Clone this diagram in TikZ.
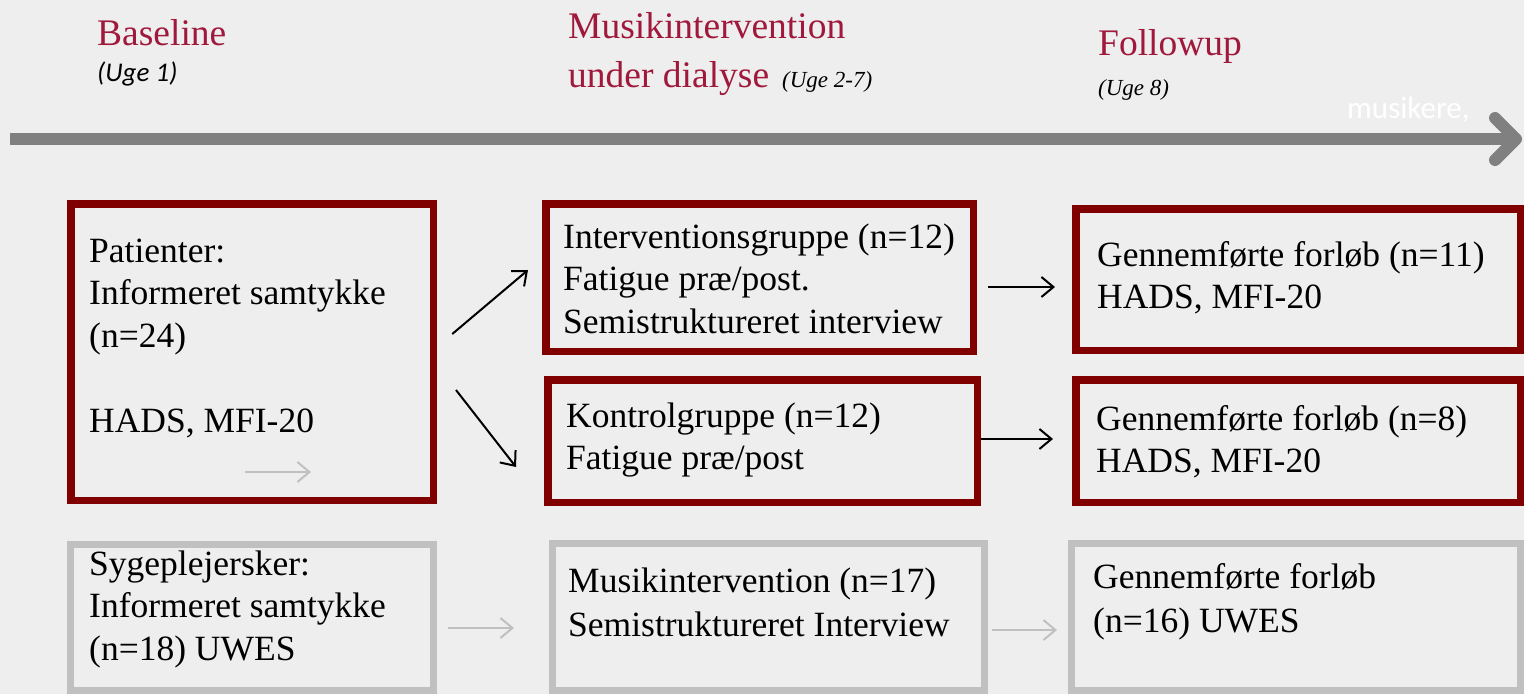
\documentclass[tikz,border=0pt]{standalone}
\usepackage{fontspec}
\setmainfont{Liberation Serif}
\newfontfamily\calib{Carlito}
\usetikzlibrary{arrows.meta,calc}
\definecolor{bg}{HTML}{EEEEEE}
\definecolor{dred}{HTML}{800000}
\definecolor{lgray}{HTML}{C0C0C0}
\definecolor{tgray}{HTML}{808080}
\definecolor{crim}{HTML}{A0193C}
\begin{document}
\begin{tikzpicture}[x=1pt,y=-1pt,
  redbox/.style={draw=dred,line width=7.5pt,inner sep=0pt,outer sep=0pt,rectangle},
  graybox/.style={draw=lgray,line width=7pt,inner sep=0pt,outer sep=0pt,rectangle},
  body/.style={anchor=north west,inner sep=0pt,align=left,text=black,font=\fontsize{35.5}{42.5}\selectfont},
  bodywide/.style={body,font=\fontsize{35.5}{44}\selectfont},
  head/.style={anchor=base west,inner sep=0pt,text=crim,font=\fontsize{37.5}{48}\selectfont},
  sub/.style={anchor=base west,inner sep=0pt,text=black,font=\fontsize{23}{28}\selectfont\itshape},
  blk/.style={draw=black,line width=2pt,-{Straight Barb[length=12pt,width=20pt]}},
  gry/.style={draw=lgray,line width=2pt,-{Straight Barb[length=12pt,width=20pt]}},
  timeline/.style={draw=tgray,line width=12pt},
]
\fill[bg] (0,0) rectangle (1524,694);
\useasboundingbox (0,0) rectangle (1524,694);

% timeline
\coordinate (t0) at (10,139);
\coordinate (t1) at (1516,139);
\coordinate (ta) at (1495,118);
\coordinate (tb) at (1495,160);
\draw[timeline] (t0) -- (t1);
\draw[timeline,line cap=round,line join=round] (ta) -- (t1) -- (tb);
\node[anchor=base west,inner sep=0pt,text=white,font=\calib\fontsize{31}{36}\selectfont] (mus) at (1347,118) {musikere,};

% headers
\node[head] (hb) at (97,45) {Baseline};
\node[anchor=base west,inner sep=0pt,text=black,font=\calib\fontsize{27}{32}\selectfont\itshape] (hb2) at (97,81) {(Uge 1)};
\node[head] (hm) at (568,38) {Musikintervention};
\node[head] (hm2) at (568,87) {under dialyse};
\node[sub] (hm3) at (782,87) {(Uge 2-7)};
\node[head] (hf) at (1098,55) {Followup};
\node[sub] (hf2) at (1098,95) {(Uge 8)};

% boxes
\node[redbox,minimum width=362.5pt,minimum height=296.5pt] (P) at (252,352) {};
\node[redbox,minimum width=427.5pt,minimum height=147.5pt] (I) at (759.5,277.5) {};
\node[redbox,minimum width=429.5pt,minimum height=122.5pt] (K) at (762.5,441) {};
\node[redbox,minimum width=444.5pt,minimum height=141.5pt] (F1) at (1298,279.5) {};
\node[redbox,minimum width=444.5pt,minimum height=122.5pt] (F2) at (1298,441) {};
\node[graybox,minimum width=363pt,minimum height=146pt] (S) at (252,617.5) {};
\node[graybox,minimum width=432pt,minimum height=147pt] (M) at (768.5,617) {};
\node[graybox,minimum width=449pt,minimum height=147pt] (G) at (1296,617) {};

% texts
\node[body] (tP) at (89,228) {\rule{0pt}{34pt}Patienter:\\ Informeret samtykke\\ (n=24)\\[42.5pt] HADS, MFI-20};
\node[body] (tI) at (563,214) {\rule{0pt}{34pt}Interventionsgruppe (n=12)\\ Fatigue præ/post.\\ Semistruktureret interview};
\node[body] (tK) at (566,393) {\rule{0pt}{34pt}Kontrolgruppe (n=12)\\ Fatigue præ/post};
\node[body] (tF1) at (1097,232) {\rule{0pt}{34pt}Gennemførte forløb (n=11)\\ HADS, MFI-20};
\node[body] (tF2) at (1096,396) {\rule{0pt}{34pt}Gennemførte forløb (n=8)\\ HADS, MFI-20};
\node[body] (tS) at (89,541) {\rule{0pt}{34pt}Sygeplejersker:\\ Informeret samtykke\\ (n=18) UWES};
\node[bodywide] (tM) at (568,558) {\rule{0pt}{34pt}Musikintervention (n=17)\\ Semistruktureret Interview};
\node[bodywide] (tG) at (1093,554) {\rule{0pt}{34pt}Gennemførte forløb\\ (n=16) UWES};

% connectors
\draw[blk] ([shift={(19,-18)}]P.east) -- ([shift={(-17.75,-7.5)}]I.west);
\draw[blk] ([shift={(22.75,38)}]P.east) -- ([shift={(-31.75,26)}]K.west);
\draw[blk] ([shift={(14.75,9.5)}]I.east) -- ([shift={(-20.75,7.5)}]F1.west);
\draw[blk] ([shift={(3.75,-2)}]K.east) -- ([shift={(-22.75,-2)}]F2.west);
\draw[gry] ([shift={(-7,-28.25)}]P.south) -- ([shift={(59,-28.25)}]P.south);
\draw[gry] ([shift={(14.5,10.5)}]S.east) -- ([shift={(-38.5,11)}]M.west);
\draw[gry] ([shift={(7.5,13)}]M.east) -- ([shift={(-14.5,13)}]G.west);
\end{tikzpicture}
\end{document}
